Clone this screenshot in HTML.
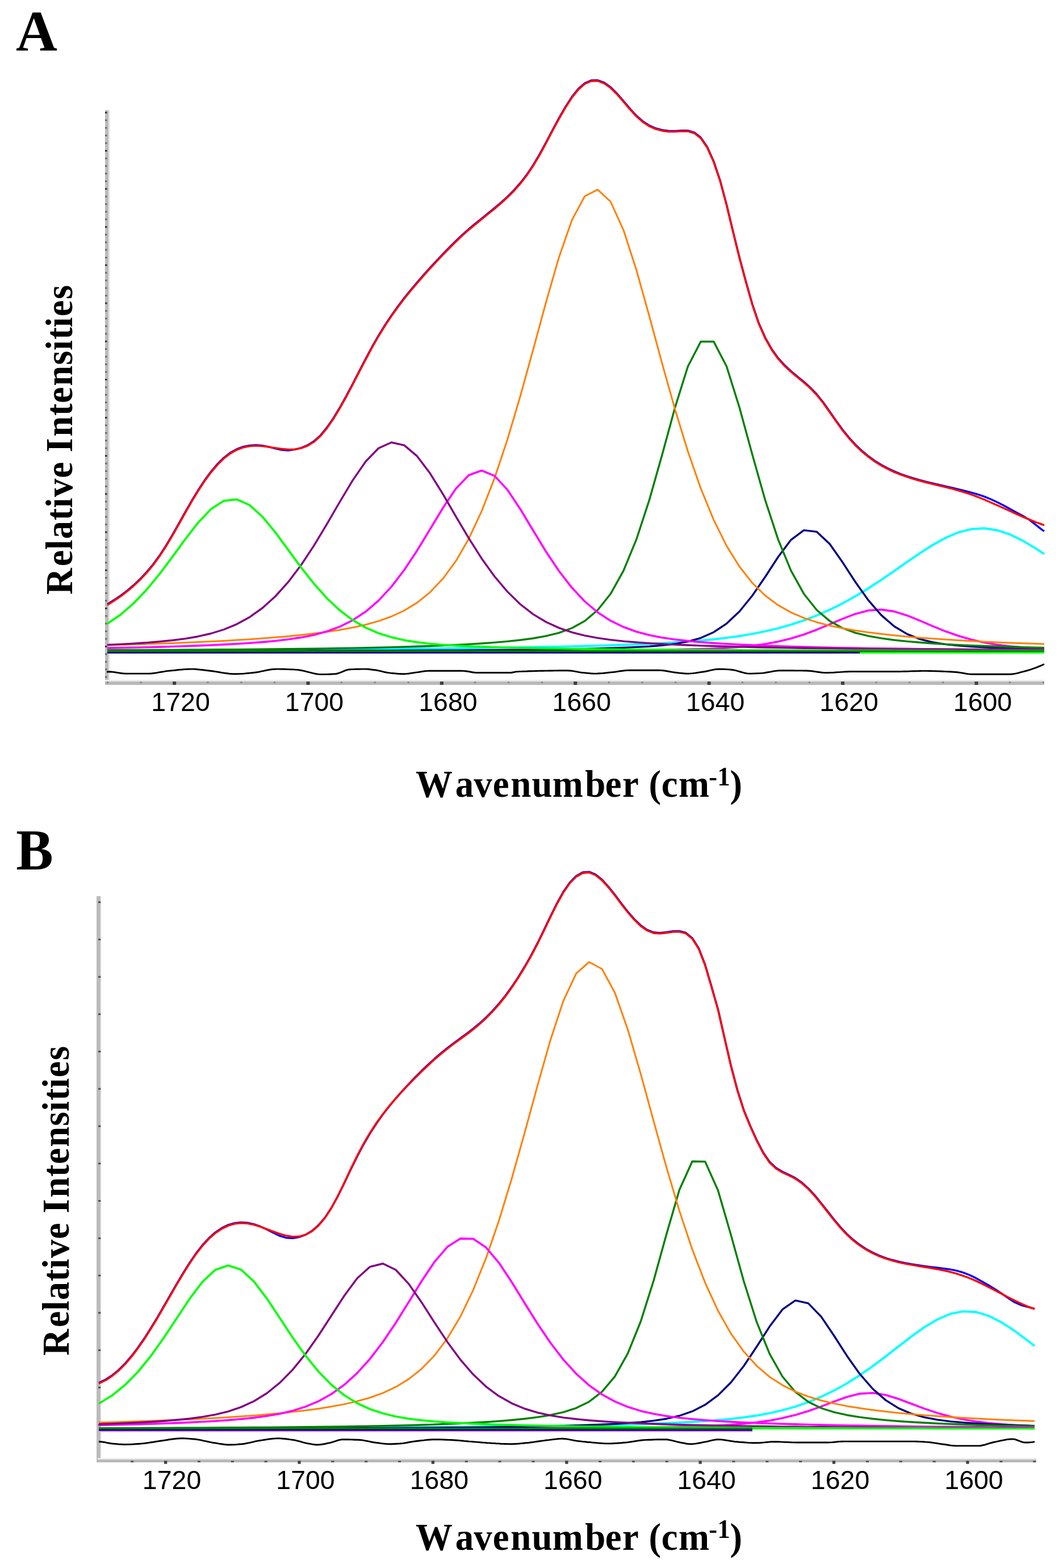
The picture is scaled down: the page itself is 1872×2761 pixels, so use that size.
<!DOCTYPE html>
<html><head><meta charset="utf-8"><title>Figure</title>
<style>
html,body{margin:0;padding:0;background:#fff;}
svg{display:block;}
.tl{font-family:"Liberation Sans",Arial,sans-serif;font-size:46.5px;text-anchor:middle;fill:#000;}
.ttl{font-family:"Liberation Serif","Times New Roman",serif;font-weight:bold;fill:#000;}
.pl{font-family:"Liberation Serif","Times New Roman",serif;font-weight:bold;fill:#000;}
</style></head>
<body>
<svg width="1872" height="2761" viewBox="0 0 1872 2761">
<rect width="1872" height="2761" fill="#fff"/>
<text class="pl" style="font-size:102.5px" transform="scale(0.985,1)" ><tspan x="28.34" y="89.3">A</tspan></text>
<text class="pl" style="font-size:102px" transform="scale(0.962,1)" ><tspan x="29.49" y="1531.2">B</tspan></text>
<rect x="185" y="194" width="6" height="1012" fill="#bcbcbc"/>
<rect x="191" y="194" width="2.6" height="1003" fill="#e6e6e6"/>
<rect x="185" y="196.8" width="3.5" height="3" fill="#303030"/>
<rect x="185" y="210.2" width="3.5" height="3" fill="#6a6a6a"/>
<rect x="185" y="223.7" width="3.5" height="3" fill="#6a6a6a"/>
<rect x="185" y="237.1" width="3.5" height="3" fill="#6a6a6a"/>
<rect x="185" y="250.5" width="3.5" height="3" fill="#6a6a6a"/>
<rect x="185" y="264" width="3.5" height="3" fill="#303030"/>
<rect x="185" y="277.4" width="3.5" height="3" fill="#6a6a6a"/>
<rect x="185" y="290.8" width="3.5" height="3" fill="#6a6a6a"/>
<rect x="185" y="304.2" width="3.5" height="3" fill="#6a6a6a"/>
<rect x="185" y="317.7" width="3.5" height="3" fill="#6a6a6a"/>
<rect x="185" y="331.1" width="3.5" height="3" fill="#303030"/>
<rect x="185" y="344.5" width="3.5" height="3" fill="#6a6a6a"/>
<rect x="185" y="358" width="3.5" height="3" fill="#6a6a6a"/>
<rect x="185" y="371.4" width="3.5" height="3" fill="#6a6a6a"/>
<rect x="185" y="384.8" width="3.5" height="3" fill="#6a6a6a"/>
<rect x="185" y="398.2" width="3.5" height="3" fill="#303030"/>
<rect x="185" y="411.7" width="3.5" height="3" fill="#6a6a6a"/>
<rect x="185" y="425.1" width="3.5" height="3" fill="#6a6a6a"/>
<rect x="185" y="438.5" width="3.5" height="3" fill="#6a6a6a"/>
<rect x="185" y="452" width="3.5" height="3" fill="#6a6a6a"/>
<rect x="185" y="465.4" width="3.5" height="3" fill="#303030"/>
<rect x="185" y="478.8" width="3.5" height="3" fill="#6a6a6a"/>
<rect x="185" y="492.3" width="3.5" height="3" fill="#6a6a6a"/>
<rect x="185" y="505.7" width="3.5" height="3" fill="#6a6a6a"/>
<rect x="185" y="519.1" width="3.5" height="3" fill="#6a6a6a"/>
<rect x="185" y="532.5" width="3.5" height="3" fill="#303030"/>
<rect x="185" y="546" width="3.5" height="3" fill="#6a6a6a"/>
<rect x="185" y="559.4" width="3.5" height="3" fill="#6a6a6a"/>
<rect x="185" y="572.8" width="3.5" height="3" fill="#6a6a6a"/>
<rect x="185" y="586.3" width="3.5" height="3" fill="#6a6a6a"/>
<rect x="185" y="599.7" width="3.5" height="3" fill="#303030"/>
<rect x="185" y="613.1" width="3.5" height="3" fill="#6a6a6a"/>
<rect x="185" y="626.6" width="3.5" height="3" fill="#6a6a6a"/>
<rect x="185" y="640" width="3.5" height="3" fill="#6a6a6a"/>
<rect x="185" y="653.4" width="3.5" height="3" fill="#6a6a6a"/>
<rect x="185" y="666.9" width="3.5" height="3" fill="#303030"/>
<rect x="185" y="680.3" width="3.5" height="3" fill="#6a6a6a"/>
<rect x="185" y="693.7" width="3.5" height="3" fill="#6a6a6a"/>
<rect x="185" y="707.1" width="3.5" height="3" fill="#6a6a6a"/>
<rect x="185" y="720.6" width="3.5" height="3" fill="#6a6a6a"/>
<rect x="185" y="734" width="3.5" height="3" fill="#303030"/>
<rect x="185" y="747.4" width="3.5" height="3" fill="#6a6a6a"/>
<rect x="185" y="760.9" width="3.5" height="3" fill="#6a6a6a"/>
<rect x="185" y="774.3" width="3.5" height="3" fill="#6a6a6a"/>
<rect x="185" y="787.7" width="3.5" height="3" fill="#6a6a6a"/>
<rect x="185" y="801.2" width="3.5" height="3" fill="#303030"/>
<rect x="185" y="814.6" width="3.5" height="3" fill="#6a6a6a"/>
<rect x="185" y="828" width="3.5" height="3" fill="#6a6a6a"/>
<rect x="185" y="841.4" width="3.5" height="3" fill="#6a6a6a"/>
<rect x="185" y="854.9" width="3.5" height="3" fill="#6a6a6a"/>
<rect x="185" y="868.3" width="3.5" height="3" fill="#303030"/>
<rect x="185" y="881.7" width="3.5" height="3" fill="#6a6a6a"/>
<rect x="185" y="895.2" width="3.5" height="3" fill="#6a6a6a"/>
<rect x="185" y="908.6" width="3.5" height="3" fill="#6a6a6a"/>
<rect x="185" y="922" width="3.5" height="3" fill="#6a6a6a"/>
<rect x="185" y="935.5" width="3.5" height="3" fill="#303030"/>
<rect x="185" y="948.9" width="3.5" height="3" fill="#6a6a6a"/>
<rect x="185" y="962.3" width="3.5" height="3" fill="#6a6a6a"/>
<rect x="185" y="975.7" width="3.5" height="3" fill="#6a6a6a"/>
<rect x="185" y="989.2" width="3.5" height="3" fill="#6a6a6a"/>
<rect x="185" y="1002.6" width="3.5" height="3" fill="#303030"/>
<rect x="185" y="1016" width="3.5" height="3" fill="#6a6a6a"/>
<rect x="185" y="1029.5" width="3.5" height="3" fill="#6a6a6a"/>
<rect x="185" y="1042.9" width="3.5" height="3" fill="#6a6a6a"/>
<rect x="185" y="1056.3" width="3.5" height="3" fill="#6a6a6a"/>
<rect x="185" y="1069.8" width="3.5" height="3" fill="#303030"/>
<rect x="185" y="1083.2" width="3.5" height="3" fill="#6a6a6a"/>
<rect x="185" y="1096.6" width="3.5" height="3" fill="#6a6a6a"/>
<rect x="185" y="1110" width="3.5" height="3" fill="#6a6a6a"/>
<rect x="185" y="1123.5" width="3.5" height="3" fill="#6a6a6a"/>
<rect x="185" y="1136.9" width="3.5" height="3" fill="#303030"/>
<rect x="185" y="1150.3" width="3.5" height="3" fill="#6a6a6a"/>
<rect x="185" y="1163.8" width="3.5" height="3" fill="#6a6a6a"/>
<rect x="185" y="1177.2" width="3.5" height="3" fill="#6a6a6a"/>
<rect x="185" y="1190.6" width="3.5" height="3" fill="#6a6a6a"/>
<rect x="185" y="1197" width="1654" height="3" fill="#ebebeb"/>
<rect x="185" y="1200" width="1654" height="6" fill="#b9b9b9"/>
<rect x="187.9" y="1200" width="3" height="3" fill="#858585"/>
<rect x="246.8" y="1200" width="3" height="3" fill="#858585"/>
<rect x="304.1" y="1200" width="6" height="6" fill="#404040"/>
<text x="318.1" y="1252" class="tl">1720</text>
<rect x="364.5" y="1200" width="3" height="3" fill="#858585"/>
<rect x="423.3" y="1200" width="3" height="3" fill="#858585"/>
<rect x="482.2" y="1200" width="3" height="3" fill="#858585"/>
<rect x="539.5" y="1200" width="6" height="6" fill="#404040"/>
<text x="553.5" y="1252" class="tl">1700</text>
<rect x="599.9" y="1200" width="3" height="3" fill="#858585"/>
<rect x="658.7" y="1200" width="3" height="3" fill="#858585"/>
<rect x="717.6" y="1200" width="3" height="3" fill="#858585"/>
<rect x="774.9" y="1200" width="6" height="6" fill="#404040"/>
<text x="788.9" y="1252" class="tl">1680</text>
<rect x="835.2" y="1200" width="3" height="3" fill="#858585"/>
<rect x="894.1" y="1200" width="3" height="3" fill="#858585"/>
<rect x="953" y="1200" width="3" height="3" fill="#858585"/>
<rect x="1010.3" y="1200" width="6" height="6" fill="#404040"/>
<text x="1024.3" y="1252" class="tl">1660</text>
<rect x="1070.7" y="1200" width="3" height="3" fill="#858585"/>
<rect x="1129.5" y="1200" width="3" height="3" fill="#858585"/>
<rect x="1188.3" y="1200" width="3" height="3" fill="#858585"/>
<rect x="1245.7" y="1200" width="6" height="6" fill="#404040"/>
<text x="1259.7" y="1252" class="tl">1640</text>
<rect x="1306" y="1200" width="3" height="3" fill="#858585"/>
<rect x="1364.9" y="1200" width="3" height="3" fill="#858585"/>
<rect x="1423.8" y="1200" width="3" height="3" fill="#858585"/>
<rect x="1481.1" y="1200" width="6" height="6" fill="#404040"/>
<text x="1495.1" y="1252" class="tl">1620</text>
<rect x="1541.5" y="1200" width="3" height="3" fill="#858585"/>
<rect x="1600.3" y="1200" width="3" height="3" fill="#858585"/>
<rect x="1659.2" y="1200" width="3" height="3" fill="#858585"/>
<rect x="1716.5" y="1200" width="6" height="6" fill="#404040"/>
<text x="1730.5" y="1252" class="tl">1600</text>
<rect x="1776.8" y="1200" width="3" height="3" fill="#858585"/>
<rect x="1835.7" y="1200" width="3" height="3" fill="#858585"/>
<polyline points="189,1144.9 189.9,1144.9 212.6,1144.9 235.3,1144.8 258,1144.7 280.7,1144.7 303.4,1144.6 326.1,1144.5 348.8,1144.4 371.5,1144.3 394.2,1144.3 416.9,1144.2 439.6,1144.1 462.3,1144 485,1143.8 507.7,1143.7 530.4,1143.6 553.1,1143.5 575.8,1143.3 598.5,1143.2 621.2,1143.1 643.9,1142.9 666.6,1142.7 689.3,1142.5 712,1142.3 734.7,1142.1 757.4,1141.9 780.1,1141.7 802.8,1141.4 825.5,1141.2 848.2,1140.9 870.9,1140.6 893.6,1140.2 916.3,1139.9 939,1139.5 961.7,1139 984.4,1138.6 1007.1,1138.1 1029.8,1137.5 1052.5,1136.9 1075.2,1136.2 1097.9,1135.5 1120.6,1134.6 1143.3,1133.7 1166,1132.5 1188.7,1131.2 1211.4,1129.7 1234.1,1127.9 1256.8,1125.7 1279.5,1123.1 1302.2,1120 1324.9,1116.2 1347.6,1111.7 1370.3,1106.3 1393,1099.9 1415.7,1092.4 1438.4,1083.7 1461.1,1073.7 1483.8,1062.4 1506.5,1049.8 1529.2,1036 1551.9,1021.1 1574.6,1005.6 1597.3,989.7 1620,974.1 1642.7,959.5 1665.4,947 1688.1,937.3 1710.8,931.6 1733.5,930.3 1756.2,933.7 1778.9,941.2 1801.6,952.3 1824.3,965.9 1839,975.6" fill="none" stroke="#00ffff" stroke-width="3.9" stroke-linejoin="round" />
<polyline points="189,1146.8 189.9,1146.8 212.6,1146.7 235.3,1146.7 258,1146.7 280.7,1146.7 303.4,1146.7 326.1,1146.7 348.8,1146.7 371.5,1146.7 394.2,1146.7 416.9,1146.6 439.6,1146.6 462.3,1146.6 485,1146.6 507.7,1146.6 530.4,1146.6 553.1,1146.5 575.8,1146.5 598.5,1146.5 621.2,1146.5 643.9,1146.5 666.6,1146.4 689.3,1146.4 712,1146.4 734.7,1146.3 757.4,1146.3 780.1,1146.2 802.8,1146.2 825.5,1146.2 848.2,1146.1 870.9,1146 893.6,1146 916.3,1145.9 939,1145.8 961.7,1145.7 984.4,1145.6 1007.1,1145.5 1029.8,1145.4 1052.5,1145.2 1075.2,1145.1 1097.9,1144.9 1120.6,1144.7 1143.3,1144.4 1166,1144.1 1188.7,1143.8 1211.4,1143.3 1234.1,1142.7 1256.8,1142 1279.5,1140.9 1302.2,1139.3 1324.9,1137.1 1347.6,1134.1 1370.3,1129.8 1393,1124.2 1415.7,1117.2 1438.4,1108.7 1461.1,1099.3 1483.8,1089.6 1506.5,1080.9 1529.2,1075 1551.9,1073.4 1574.6,1076.6 1597.3,1083.7 1620,1092.9 1642.7,1102.6 1665.4,1111.8 1688.1,1119.8 1710.8,1126.3 1733.5,1131.4 1756.2,1135.2 1778.9,1138 1801.6,1139.9 1824.3,1141.3 1839,1142" fill="none" stroke="#ff00ff" stroke-width="3.6" stroke-linejoin="round" />
<polyline points="189,1146.5 189.9,1146.5 212.6,1146.5 235.3,1146.5 258,1146.4 280.7,1146.4 303.4,1146.4 326.1,1146.4 348.8,1146.4 371.5,1146.3 394.2,1146.3 416.9,1146.3 439.6,1146.2 462.3,1146.2 485,1146.2 507.7,1146.1 530.4,1146.1 553.1,1146 575.8,1146 598.5,1145.9 621.2,1145.8 643.9,1145.8 666.6,1145.7 689.3,1145.6 712,1145.5 734.7,1145.4 757.4,1145.3 780.1,1145.2 802.8,1145.1 825.5,1144.9 848.2,1144.8 870.9,1144.6 893.6,1144.4 916.3,1144.2 939,1143.9 961.7,1143.6 984.4,1143.3 1007.1,1142.9 1029.8,1142.4 1052.5,1141.9 1075.2,1141.2 1097.9,1140.4 1120.6,1139.4 1143.3,1138.2 1166,1136.4 1188.7,1133.8 1211.4,1129.7 1234.1,1123.3 1256.8,1113.2 1279.5,1098.1 1302.2,1076.7 1324.9,1048.8 1347.6,1015.7 1370.3,980.8 1393,950.6 1415.7,933.6 1438.4,936.4 1461.1,957.8 1483.8,990.1 1506.5,1025 1529.2,1056.9 1551.9,1083.1 1574.6,1102.7 1597.3,1116.4 1620,1125.3 1642.7,1131 1665.4,1134.6 1688.1,1136.9 1710.8,1138.5 1733.5,1139.7 1756.2,1140.6 1778.9,1141.4 1801.6,1142 1824.3,1142.5 1839,1142.8" fill="none" stroke="#000080" stroke-width="3.4" stroke-linejoin="round" />
<polyline points="189,1144.9 189.9,1144.9 212.6,1144.8 235.3,1144.7 258,1144.6 280.7,1144.5 303.4,1144.4 326.1,1144.3 348.8,1144.1 371.5,1144 394.2,1143.8 416.9,1143.6 439.6,1143.4 462.3,1143.2 485,1143 507.7,1142.8 530.4,1142.5 553.1,1142.2 575.8,1141.9 598.5,1141.5 621.2,1141.1 643.9,1140.7 666.6,1140.2 689.3,1139.6 712,1139 734.7,1138.3 757.4,1137.5 780.1,1136.6 802.8,1135.6 825.5,1134.4 848.2,1133 870.9,1131.4 893.6,1129.4 916.3,1127 939,1124 961.7,1119.9 984.4,1114.3 1007.1,1106 1029.8,1093.5 1052.5,1074.3 1075.2,1045.8 1097.9,1005.1 1120.6,950.2 1143.3,881 1166,801 1188.7,717.8 1211.4,645.2 1234.1,601.5 1256.8,601.4 1279.5,645 1302.2,717.5 1324.9,800.6 1347.6,880.7 1370.3,949.9 1393,1004.9 1415.7,1045.7 1438.4,1074.2 1461.1,1093.4 1483.8,1106 1506.5,1114.3 1529.2,1119.9 1551.9,1123.9 1574.6,1127 1597.3,1129.4 1620,1131.3 1642.7,1133 1665.4,1134.4 1688.1,1135.6 1710.8,1136.6 1733.5,1137.5 1756.2,1138.3 1778.9,1139 1801.6,1139.6 1824.3,1140.2 1839,1140.5" fill="none" stroke="#008000" stroke-width="3.4" stroke-linejoin="round" />
<polyline points="189,1136 189.9,1136 212.6,1135.4 235.3,1134.8 258,1134.1 280.7,1133.3 303.4,1132.5 326.1,1131.6 348.8,1130.6 371.5,1129.6 394.2,1128.4 416.9,1127.1 439.6,1125.7 462.3,1124.1 485,1122.3 507.7,1120.4 530.4,1118.1 553.1,1115.6 575.8,1112.6 598.5,1109.2 621.2,1105 643.9,1100 666.6,1093.6 689.3,1085.5 712,1075 734.7,1061.1 757.4,1042.8 780.1,1018.8 802.8,987.9 825.5,948.7 848.2,900.2 870.9,841.9 893.6,773.9 916.3,697.5 939,615.3 961.7,531.6 984.4,452.9 1007.1,387.7 1029.8,345.5 1052.5,333.8 1075.2,355 1097.9,404.8 1120.6,475 1143.3,556 1166,639.8 1188.7,720.7 1211.4,794.8 1234.1,860 1256.8,915.4 1279.5,961.1 1302.2,997.8 1324.9,1026.5 1347.6,1048.7 1370.3,1065.6 1393,1078.4 1415.7,1088.1 1438.4,1095.7 1461.1,1101.6 1483.8,1106.3 1506.5,1110.2 1529.2,1113.5 1551.9,1116.3 1574.6,1118.8 1597.3,1121 1620,1122.9 1642.7,1124.6 1665.4,1126.1 1688.1,1127.5 1710.8,1128.8 1733.5,1129.9 1756.2,1130.9 1778.9,1131.9 1801.6,1132.8 1824.3,1133.5 1839,1134" fill="none" stroke="#ff8000" stroke-width="3.0" stroke-linejoin="round" />
<polyline points="189,1141.1 189.9,1141.1 212.6,1140.6 235.3,1140.2 258,1139.7 280.7,1139.1 303.4,1138.5 326.1,1137.7 348.8,1136.9 371.5,1136 394.2,1134.9 416.9,1133.7 439.6,1132.3 462.3,1130.6 485,1128.5 507.7,1125.8 530.4,1122.4 553.1,1117.9 575.8,1111.7 598.5,1103.4 621.2,1092.1 643.9,1077.1 666.6,1057.6 689.3,1033.1 712,1003.5 734.7,969.3 757.4,931.9 780.1,894.2 802.8,860.5 825.5,836.8 848.2,828.5 870.9,837.9 893.6,862.4 916.3,896.5 939,934.3 961.7,971.6 984.4,1005.5 1007.1,1034.8 1029.8,1059 1052.5,1078.2 1075.2,1092.9 1097.9,1104 1120.6,1112.2 1143.3,1118.2 1166,1122.7 1188.7,1126 1211.4,1128.6 1234.1,1130.7 1256.8,1132.4 1279.5,1133.8 1302.2,1135 1324.9,1136.1 1347.6,1137 1370.3,1137.8 1393,1138.5 1415.7,1139.1 1438.4,1139.7 1461.1,1140.2 1483.8,1140.7 1506.5,1141.1 1529.2,1141.5 1551.9,1141.8 1574.6,1142.1 1597.3,1142.4 1620,1142.7 1642.7,1142.9 1665.4,1143.1 1688.1,1143.3 1710.8,1143.5 1733.5,1143.7 1756.2,1143.8 1778.9,1144 1801.6,1144.1 1824.3,1144.3 1839,1144.3" fill="none" stroke="#ff00ff" stroke-width="3.6" stroke-linejoin="round" />
<polyline points="189,1135.5 189.9,1135.4 212.6,1134.4 235.3,1133.1 258,1131.6 280.7,1129.8 303.4,1127.5 326.1,1124.6 348.8,1120.7 371.5,1115.5 394.2,1108.5 416.9,1099.1 439.6,1086.7 462.3,1070.5 485,1050 507.7,1024.7 530.4,994.7 553.1,960.4 575.8,922.7 598.5,883.5 621.2,845.6 643.9,812.8 666.6,789.2 689.3,779 712,784.1 734.7,803.4 757.4,833.6 780.1,870.2 802.8,909.3 825.5,947.7 848.2,983.4 870.9,1015 893.6,1041.9 916.3,1064 939,1081.6 961.7,1095.2 984.4,1105.6 1007.1,1113.4 1029.8,1119.1 1052.5,1123.4 1075.2,1126.6 1097.9,1129.1 1120.6,1131 1143.3,1132.6 1166,1133.9 1188.7,1135.1 1211.4,1136 1234.1,1136.9 1256.8,1137.6 1279.5,1138.3 1302.2,1138.9 1324.9,1139.5 1347.6,1140 1370.3,1140.4 1393,1140.8 1415.7,1141.2 1438.4,1141.5 1461.1,1141.8 1483.8,1142.1 1506.5,1142.4 1529.2,1142.6 1551.9,1142.8 1574.6,1143 1597.3,1143.2 1620,1143.4 1642.7,1143.6 1665.4,1143.7 1688.1,1143.9 1710.8,1144 1733.5,1144.1 1756.2,1144.3 1778.9,1144.4 1801.6,1144.5 1824.3,1144.6 1839,1144.6" fill="none" stroke="#800080" stroke-width="3.4" stroke-linejoin="round" />
<polyline points="189,1098.1 189.9,1097.6 212.6,1082.1 235.3,1062.4 258,1038.6 280.7,1011.1 303.4,980.8 326.1,949.6 348.8,920.4 371.5,896.5 394.2,881.8 416.9,879.3 439.6,889.4 462.3,910 485,937.6 507.7,968.4 530.4,999.3 553.1,1028.1 575.8,1053.5 598.5,1074.8 621.2,1091.9 643.9,1105.1 666.6,1115 689.3,1122.1 712,1127.3 734.7,1130.9 757.4,1133.5 780.1,1135.5 802.8,1136.9 825.5,1138 848.2,1138.9 870.9,1139.7 893.6,1140.3 916.3,1140.9 939,1141.3 961.7,1141.8 984.4,1142.2 1007.1,1142.5 1029.8,1142.8 1052.5,1143.1 1075.2,1143.4 1097.9,1143.6 1120.6,1143.8 1143.3,1144 1166,1144.2 1188.7,1144.3 1211.4,1144.5 1234.1,1144.6 1256.8,1144.7 1279.5,1144.8 1302.2,1144.9 1324.9,1145 1347.6,1145.1 1370.3,1145.2 1393,1145.3 1415.7,1145.4 1438.4,1145.4 1461.1,1145.5 1483.8,1145.6 1506.5,1145.6 1529.2,1145.7 1551.9,1145.7 1574.6,1145.8 1597.3,1145.8 1620,1145.9 1642.7,1145.9 1665.4,1145.9 1688.1,1146 1710.8,1146 1733.5,1146.1 1756.2,1146.1 1778.9,1146.1 1801.6,1146.1 1824.3,1146.2 1839,1146.2" fill="none" stroke="#00ff00" stroke-width="3.7" stroke-linejoin="round" />
<line x1="189" y1="1149.3" x2="1514" y2="1149.3" stroke="#000080" stroke-width="3"/>
<line x1="1514" y1="1149.2" x2="1839" y2="1149.2" stroke="#00ff00" stroke-width="3"/>
<line x1="189" y1="1146.4" x2="1839" y2="1146.4" stroke="#008000" stroke-width="3"/>
<polyline points="189,1064 189.9,1063.5 201.2,1056.3 212.6,1048.6 224,1040 235.3,1030.4 246.6,1019.7 258,1007.6 269.4,994 280.7,978.6 292.1,961.2 303.4,942.2 314.8,922.2 326.1,901.9 337.5,882 348.8,863.3 360.1,846.1 371.5,830.6 382.9,817.2 394.2,806 405.6,797.2 416.9,790.9 428.2,786.7 439.6,784.4 451,783.8 462.3,784.7 473.6,786.9 485,789.8 496.4,792.3 507.7,793 519.1,791.6 530.4,788.6 541.8,783.9 553.1,776.7 564.5,766.4 575.8,752.7 587.2,736.2 598.5,717.5 609.9,697.1 621.2,675.7 632.5,653.7 643.9,631.9 655.2,610.7 666.6,590.8 678,572.4 689.3,555.4 700.7,539.5 712,524.6 723.4,510.5 734.7,497.1 746,484.1 757.4,471.5 768.8,459.1 780.1,447.1 791.5,435.5 802.8,424.3 814.1,413.6 825.5,403.4 836.9,393.9 848.2,384.7 859.5,375.6 870.9,366.4 882.2,356.7 893.6,346.4 905,335 916.3,322.2 927.6,307.6 939,290.7 950.4,271.4 961.7,250.5 973,229 984.4,207.9 995.8,188.1 1007.1,170.6 1018.5,156.4 1029.8,146.5 1041.2,141.5 1052.5,141.3 1063.8,145.4 1075.2,153.5 1086.5,164.7 1097.9,177.8 1109.2,191.2 1120.6,203.6 1132,213.6 1143.3,220.9 1154.7,226 1166,229 1177.3,230.5 1188.7,230.6 1200,229.9 1211.4,230 1222.8,233.3 1234.1,242.2 1245.5,258.8 1256.8,283.9 1268.2,317.7 1279.5,359.9 1290.8,406.8 1302.2,453.1 1313.5,495.2 1324.9,535.5 1336.2,568.7 1347.6,594.5 1359,614.7 1370.3,630.5 1381.7,643.1 1393,653.6 1404.3,663 1415.7,672.3 1427,682.4 1438.4,694.3 1449.8,708.6 1461.1,724.6 1472.5,740.9 1483.8,756.6 1495.2,770.6 1506.5,783 1517.8,793.8 1529.2,803.2 1540.5,811.4 1551.9,818.5 1563.2,824.6 1574.6,829.9 1585.9,834.5 1597.3,838.5 1608.7,842.1 1620,845.3 1631.3,848.3 1642.7,851.1 1654,853.7 1665.4,856.4 1676.8,859 1688.1,861.6 1699.4,864.4 1710.8,867.3 1722.2,870.6 1733.5,874.4 1744.8,879 1756.2,884.3 1767.5,890.1 1778.9,896.3 1790.2,902.4 1801.6,908.4 1812.9,915.4 1824.3,924.3 1835.7,933.4 1839,935.3" fill="none" stroke="#0000ff" stroke-width="3.4" stroke-linejoin="round" />
<polyline points="189,1065.2 189.9,1064.7 201.2,1057.5 212.6,1049.8 224,1041.2 235.3,1031.6 246.6,1020.9 258,1008.8 269.4,995.2 280.7,979.8 292.1,962.4 303.4,943.4 314.8,923.4 326.1,903.1 337.5,883.2 348.8,864.5 360.1,847.3 371.5,831.8 382.9,818.4 394.2,807.2 405.6,798.4 416.9,792.1 428.2,787.9 439.6,785.6 451,784.9 462.3,785.6 473.6,787.1 485,788.9 496.4,790.5 507.7,791.4 519.1,791.2 530.4,789.1 541.8,784.9 553.1,777.9 564.5,767.6 575.8,753.9 587.2,737.4 598.5,718.7 609.9,698.3 621.2,676.9 632.5,654.9 643.9,633.1 655.2,611.9 666.6,592 678,573.6 689.3,556.6 700.7,540.7 712,525.8 723.4,511.7 734.7,498.3 746,485.3 757.4,472.7 768.8,460.3 780.1,448.3 791.5,436.7 802.8,425.5 814.1,414.8 825.5,404.6 836.9,395.1 848.2,385.9 859.5,376.8 870.9,367.6 882.2,357.9 893.6,347.6 905,336.2 916.3,323.4 927.6,308.8 939,291.9 950.4,272.6 961.7,251.7 973,230.2 984.4,209.1 995.8,189.3 1007.1,171.8 1018.5,157.6 1029.8,147.7 1041.2,142.7 1052.5,142.5 1063.8,146.6 1075.2,154.7 1086.5,165.9 1097.9,179 1109.2,192.4 1120.6,204.8 1132,214.8 1143.3,222.1 1154.7,227.2 1166,230.2 1177.3,231.7 1188.7,231.8 1200,231.1 1211.4,231.2 1222.8,234.5 1234.1,243.4 1245.5,260 1256.8,285.1 1268.2,318.9 1279.5,361.1 1290.8,408 1302.2,454.3 1313.5,496.4 1324.9,536.7 1336.2,569.9 1347.6,595.7 1359,615.9 1370.3,631.7 1381.7,644.3 1393,654.8 1404.3,664.2 1415.7,673.5 1427,683.6 1438.4,695.5 1449.8,709.8 1461.1,725.8 1472.5,742.1 1483.8,757.8 1495.2,771.8 1506.5,784.2 1517.8,795 1529.2,804.4 1540.5,812.6 1551.9,819.7 1563.2,825.8 1574.6,831.1 1585.9,835.7 1597.3,839.7 1608.7,843.3 1620,846.5 1631.3,849.5 1642.7,852.3 1654,855 1665.4,857.8 1676.8,860.7 1688.1,863.8 1699.4,867.2 1710.8,871 1722.2,875.2 1733.5,879.8 1744.8,884.7 1756.2,889.7 1767.5,894.8 1778.9,900 1790.2,905.1 1801.6,910.1 1812.9,914.9 1824.3,919.5 1835.7,923.6 1839,924.8" fill="none" stroke="#ff0000" stroke-width="3.4" stroke-linejoin="round" />
<polyline points="188,1183 192,1182.7 196,1183 200,1183.4 204,1184 208,1184.6 212,1185.2 216,1185.7 220,1186 224,1186.1 228,1186.1 232,1186.1 236,1186.1 240,1186.1 244,1186.1 248,1186.1 252,1186.1 256,1186.1 260,1186.1 264,1186 268,1185.7 272,1185.2 276,1184.6 280,1183.9 284,1183.2 288,1182.6 292,1181.9 296,1181.4 300,1181 304,1180.6 308,1180.2 312,1179.7 316,1179.3 320,1179 324,1178.6 328,1178.4 332,1178.2 336,1178.1 340,1178.1 344,1178.3 348,1178.7 352,1179.1 356,1179.5 360,1180 364,1180.5 368,1181 372,1181.5 376,1182 380,1182.6 384,1183.3 388,1184 392,1184.6 396,1185.2 400,1185.7 404,1186.2 408,1186.5 412,1186.7 416,1186.7 420,1186.6 424,1186.4 428,1186.2 432,1185.9 436,1185.5 440,1185.1 444,1184.7 448,1184.3 452,1183.8 456,1183.1 460,1182.2 464,1181.4 468,1180.5 472,1179.7 476,1179 480,1178.5 484,1178.2 488,1178.1 492,1178.1 496,1178.2 500,1178.3 504,1178.4 508,1178.6 512,1178.7 516,1178.9 520,1179.1 524,1179.4 528,1180 532,1180.7 536,1181.6 540,1182.6 544,1183.7 548,1184.7 552,1185.7 556,1186.5 560,1187.1 564,1187.4 568,1187.5 572,1187.4 576,1187.4 580,1187.2 584,1187 588,1186.8 592,1186.5 596,1185.5 600,1184 604,1182.4 608,1180.7 612,1179.4 616,1178.7 620,1178.6 624,1178.4 628,1178.3 632,1178.2 636,1178.1 640,1178.1 644,1178.1 648,1178.3 652,1178.7 656,1179.2 660,1179.7 664,1180.3 668,1181.1 672,1182.1 676,1183.1 680,1184 684,1184.6 688,1185.1 692,1185.5 696,1185.9 700,1186.3 704,1186.5 708,1186.7 712,1186.7 716,1186.4 720,1186 724,1185.4 728,1184.8 732,1184.1 736,1183.6 740,1183 744,1182.4 748,1181.8 752,1181.4 756,1181.3 760,1181.3 764,1181.3 768,1181.3 772,1181.3 776,1181.3 780,1181.3 784,1181.3 788,1181.3 792,1181.3 796,1181.3 800,1181.3 804,1181.3 808,1181.3 812,1181.3 816,1181.4 820,1181.7 824,1182.3 828,1183 832,1183.7 836,1184.3 840,1184.5 844,1184.5 848,1184.5 852,1184.5 856,1184.5 860,1184.5 864,1184.5 868,1184.5 872,1184.5 876,1184.5 880,1184.5 884,1184.5 888,1184.5 892,1184.5 896,1184.5 900,1184.5 904,1183.8 908,1182.9 912,1182.6 916,1182.4 920,1182.3 924,1182.1 928,1182 932,1181.8 936,1181.7 940,1181.6 944,1181.5 948,1181.4 952,1181.3 956,1181.2 960,1181.1 964,1181.1 968,1181 972,1181 976,1180.9 980,1180.9 984,1180.8 988,1180.8 992,1180.8 996,1180.8 1000,1180.8 1004,1181 1008,1181.4 1012,1182.1 1016,1182.8 1020,1183.6 1024,1184.2 1028,1184.6 1032,1185 1036,1185.4 1040,1185.8 1044,1186 1048,1186.1 1052,1186 1056,1185.8 1060,1185.6 1064,1185.2 1068,1184.8 1072,1184.3 1076,1183.9 1080,1183.5 1084,1183 1088,1182.4 1092,1181.8 1096,1181.2 1100,1180.7 1104,1180.4 1108,1180.3 1112,1180.3 1116,1180.3 1120,1180.3 1124,1180.3 1128,1180.3 1132,1180.3 1136,1180.3 1140,1180.3 1144,1180.3 1148,1180.3 1152,1180.3 1156,1180.3 1160,1180.3 1164,1180.4 1168,1180.8 1172,1181.3 1176,1182 1180,1182.7 1184,1183.4 1188,1184 1192,1184.5 1196,1185 1200,1185.4 1204,1185.8 1208,1186 1212,1186.1 1216,1185.9 1220,1185.6 1224,1185.1 1228,1184.5 1232,1183.9 1236,1183.3 1240,1182.7 1244,1182 1248,1181.1 1252,1180.2 1256,1179.3 1260,1178.6 1264,1178.2 1268,1178.1 1272,1178.2 1276,1178.4 1280,1178.6 1284,1178.9 1288,1179.2 1292,1179.8 1296,1180.7 1300,1181.8 1304,1183 1308,1184.2 1312,1185.2 1316,1185.9 1320,1186.1 1324,1186.1 1328,1185.9 1332,1185.8 1336,1185.6 1340,1185.4 1344,1185.1 1348,1184.5 1352,1183.8 1356,1183.1 1360,1182.3 1364,1181.6 1368,1181.1 1372,1180.8 1376,1180.8 1380,1180.8 1384,1180.8 1388,1180.8 1392,1180.8 1396,1180.8 1400,1180.9 1404,1180.9 1408,1180.9 1412,1180.9 1416,1181 1420,1181 1424,1181.2 1428,1181.5 1432,1182 1436,1182.6 1440,1183.2 1444,1183.8 1448,1184.3 1452,1184.5 1456,1184.6 1460,1184.5 1464,1184.4 1468,1184.2 1472,1183.9 1476,1183.6 1480,1183.4 1484,1183.1 1488,1182.9 1492,1182.7 1496,1182.5 1500,1182.5 1504,1182.5 1508,1182.5 1512,1182.5 1516,1182.5 1520,1182.5 1524,1182.5 1528,1182.5 1532,1182.5 1536,1182.5 1540,1182.5 1544,1182.5 1548,1182.5 1552,1182.5 1556,1182.5 1560,1182.5 1564,1182.5 1568,1182.5 1572,1182.5 1576,1182.5 1580,1182.5 1584,1182.5 1588,1182.4 1592,1182.3 1596,1182.2 1600,1182.1 1604,1181.9 1608,1181.8 1612,1181.7 1616,1181.6 1620,1181.5 1624,1181.4 1628,1181.4 1632,1181.4 1636,1181.5 1640,1181.5 1644,1181.6 1648,1181.7 1652,1181.9 1656,1182 1660,1182.2 1664,1182.4 1668,1182.6 1672,1182.8 1676,1183 1680,1183.2 1684,1183.5 1688,1184 1692,1184.6 1696,1185.3 1700,1186 1704,1186.6 1708,1187.1 1712,1187.3 1716,1187.3 1720,1187.3 1724,1187.3 1728,1187.3 1732,1187.3 1736,1187.3 1740,1187.3 1744,1187.3 1748,1187.3 1752,1187.3 1756,1187.3 1760,1187.3 1764,1187.3 1768,1187.3 1772,1187.3 1776,1187.3 1780,1187.2 1784,1186.8 1788,1186.1 1792,1185.3 1796,1184.2 1800,1183.2 1804,1182.1 1808,1181 1812,1179.9 1816,1178.6 1820,1177.2 1824,1175.8 1828,1174.2 1832,1172.6 1836,1170.8 1839,1169.5" fill="none" stroke="#000000" stroke-width="2.9" stroke-linejoin="round" />
<text class="ttl" style="font-size:67px" transform="scale(0.97,1)" ><tspan x="754.62" y="1403.5">W</tspan><tspan x="826.6" y="1403.5">a</tspan><tspan x="860.1" y="1403.5">v</tspan><tspan x="894.62" y="1403.5">e</tspan><tspan x="927.07" y="1403.5">n</tspan><tspan x="965.48" y="1403.5">u</tspan><tspan x="1002.94" y="1403.5">m</tspan><tspan x="1062.14" y="1403.5">b</tspan><tspan x="1098.64" y="1403.5">e</tspan><tspan x="1129.85" y="1403.5">r</tspan><tspan x="1159.59" y="1403.5"> </tspan><tspan x="1177.78" y="1403.5">(</tspan><tspan x="1200.7" y="1403.5">c</tspan><tspan x="1232.02" y="1403.5">m</tspan><tspan x="1286.98" y="1383.3" style="font-size:46px">-</tspan><tspan x="1302.5" y="1383.3" style="font-size:46px">1</tspan><tspan x="1325.26" y="1403.5">)</tspan></text>
<text class="ttl" style="font-size:68px" transform="translate(126.9,3000) rotate(-90) scale(0.95,1)"><tspan x="2055.89">R</tspan><tspan x="2108.2">e</tspan><tspan x="2138.57">l</tspan><tspan x="2158.65">a</tspan><tspan x="2193.54">t</tspan><tspan x="2216.4">i</tspan><tspan x="2236.84">v</tspan><tspan x="2271.57">e</tspan><tspan x="2301.75"> </tspan><tspan x="2319.6">I</tspan><tspan x="2348.7">n</tspan><tspan x="2387.33">t</tspan><tspan x="2410.41">e</tspan><tspan x="2442.38">n</tspan><tspan x="2481.31">s</tspan><tspan x="2508.3">i</tspan><tspan x="2528.59">t</tspan><tspan x="2551.14">i</tspan><tspan x="2571.36">e</tspan><tspan x="2603.1">s</tspan></text>
<rect x="170" y="1578" width="7.3" height="997" fill="#bcbcbc"/>
<rect x="173" y="1587.1" width="4.3" height="3" fill="#505050"/>
<rect x="173" y="1652.8" width="4.3" height="3" fill="#505050"/>
<rect x="173" y="1718.6" width="4.3" height="3" fill="#505050"/>
<rect x="173" y="1784.3" width="4.3" height="3" fill="#505050"/>
<rect x="173" y="1850.1" width="4.3" height="3" fill="#505050"/>
<rect x="173" y="1915.8" width="4.3" height="3" fill="#505050"/>
<rect x="173" y="1981.5" width="4.3" height="3" fill="#505050"/>
<rect x="173" y="2047.3" width="4.3" height="3" fill="#505050"/>
<rect x="173" y="2113" width="4.3" height="3" fill="#505050"/>
<rect x="173" y="2178.8" width="4.3" height="3" fill="#505050"/>
<rect x="173" y="2244.5" width="4.3" height="3" fill="#505050"/>
<rect x="173" y="2310.2" width="4.3" height="3" fill="#505050"/>
<rect x="173" y="2376" width="4.3" height="3" fill="#505050"/>
<rect x="173" y="2441.7" width="4.3" height="3" fill="#505050"/>
<rect x="173" y="2507.5" width="4.3" height="3" fill="#505050"/>
<rect x="172" y="2567.4" width="1653" height="2.6" fill="#ebebeb"/>
<rect x="172" y="2570" width="1653" height="5" fill="#b9b9b9"/>
<rect x="230.2" y="2572.3" width="5" height="2.7" fill="#505050"/>
<rect x="289" y="2572.3" width="5.3" height="5.4" fill="#404040"/>
<text x="302.6" y="2622" class="tl">1720</text>
<rect x="348" y="2572.3" width="5" height="2.7" fill="#505050"/>
<rect x="406.8" y="2572.3" width="5" height="2.7" fill="#505050"/>
<rect x="465.7" y="2572.3" width="5" height="2.7" fill="#505050"/>
<rect x="524.4" y="2572.3" width="5.3" height="5.4" fill="#404040"/>
<text x="538" y="2622" class="tl">1700</text>
<rect x="583.4" y="2572.3" width="5" height="2.7" fill="#505050"/>
<rect x="642.2" y="2572.3" width="5" height="2.7" fill="#505050"/>
<rect x="701.1" y="2572.3" width="5" height="2.7" fill="#505050"/>
<rect x="759.8" y="2572.3" width="5.3" height="5.4" fill="#404040"/>
<text x="773.4" y="2622" class="tl">1680</text>
<rect x="818.8" y="2572.3" width="5" height="2.7" fill="#505050"/>
<rect x="877.6" y="2572.3" width="5" height="2.7" fill="#505050"/>
<rect x="936.5" y="2572.3" width="5" height="2.7" fill="#505050"/>
<rect x="995.2" y="2572.3" width="5.3" height="5.4" fill="#404040"/>
<text x="1008.8" y="2622" class="tl">1660</text>
<rect x="1054.2" y="2572.3" width="5" height="2.7" fill="#505050"/>
<rect x="1113" y="2572.3" width="5" height="2.7" fill="#505050"/>
<rect x="1171.8" y="2572.3" width="5" height="2.7" fill="#505050"/>
<rect x="1230.5" y="2572.3" width="5.3" height="5.4" fill="#404040"/>
<text x="1244.2" y="2622" class="tl">1640</text>
<rect x="1289.5" y="2572.3" width="5" height="2.7" fill="#505050"/>
<rect x="1348.4" y="2572.3" width="5" height="2.7" fill="#505050"/>
<rect x="1407.2" y="2572.3" width="5" height="2.7" fill="#505050"/>
<rect x="1465.9" y="2572.3" width="5.3" height="5.4" fill="#404040"/>
<text x="1479.6" y="2622" class="tl">1620</text>
<rect x="1525" y="2572.3" width="5" height="2.7" fill="#505050"/>
<rect x="1583.8" y="2572.3" width="5" height="2.7" fill="#505050"/>
<rect x="1642.7" y="2572.3" width="5" height="2.7" fill="#505050"/>
<rect x="1701.3" y="2572.3" width="5.3" height="5.4" fill="#404040"/>
<text x="1715" y="2622" class="tl">1600</text>
<rect x="1760.3" y="2572.3" width="5" height="2.7" fill="#505050"/>
<rect x="1819.2" y="2572.3" width="5" height="2.7" fill="#505050"/>
<polyline points="174,2515.1 174.9,2515.1 197.6,2515.1 220.3,2515 243,2515 265.7,2515 288.4,2514.9 311.1,2514.9 333.8,2514.8 356.5,2514.7 379.2,2514.7 401.9,2514.6 424.6,2514.6 447.3,2514.5 470,2514.4 492.7,2514.3 515.4,2514.3 538.1,2514.2 560.8,2514.1 583.5,2514 606.2,2513.9 628.9,2513.8 651.6,2513.7 674.3,2513.5 697,2513.4 719.7,2513.3 742.4,2513.1 765.1,2512.9 787.8,2512.8 810.5,2512.6 833.2,2512.4 855.9,2512.2 878.6,2511.9 901.3,2511.7 924,2511.4 946.7,2511.1 969.4,2510.8 992.1,2510.5 1014.8,2510.1 1037.5,2509.7 1060.2,2509.2 1082.9,2508.7 1105.6,2508.1 1128.3,2507.5 1151,2506.7 1173.7,2505.9 1196.4,2504.9 1219.1,2503.8 1241.8,2502.3 1264.5,2500.6 1287.2,2498.5 1309.9,2495.8 1332.6,2492.5 1355.3,2488.3 1378,2483.1 1400.7,2476.8 1423.4,2469 1446.1,2459.6 1468.8,2448.6 1491.5,2435.9 1514.2,2421.5 1536.9,2405.6 1559.6,2388.6 1582.3,2370.9 1605,2353.4 1627.7,2337.2 1650.4,2323.5 1673.1,2313.7 1695.8,2309.1 1718.5,2310.2 1741.2,2317 1763.9,2328.4 1786.6,2343.3 1809.3,2360.2 1822,2370" fill="none" stroke="#00ffff" stroke-width="3.9" stroke-linejoin="round" />
<polyline points="174,2516.2 174.9,2516.2 197.6,2516.2 220.3,2516.2 243,2516.2 265.7,2516.2 288.4,2516.2 311.1,2516.2 333.8,2516.1 356.5,2516.1 379.2,2516.1 401.9,2516.1 424.6,2516.1 447.3,2516.1 470,2516 492.7,2516 515.4,2516 538.1,2516 560.8,2516 583.5,2515.9 606.2,2515.9 628.9,2515.9 651.6,2515.8 674.3,2515.8 697,2515.8 719.7,2515.7 742.4,2515.7 765.1,2515.6 787.8,2515.6 810.5,2515.5 833.2,2515.5 855.9,2515.4 878.6,2515.3 901.3,2515.2 924,2515.2 946.7,2515.1 969.4,2514.9 992.1,2514.8 1014.8,2514.7 1037.5,2514.5 1060.2,2514.3 1082.9,2514.1 1105.6,2513.8 1128.3,2513.6 1151,2513.2 1173.7,2512.8 1196.4,2512.3 1219.1,2511.8 1241.8,2511 1264.5,2510 1287.2,2508.8 1309.9,2507 1332.6,2504.6 1355.3,2501.4 1378,2497.1 1400.7,2491.5 1423.4,2484.7 1446.1,2476.6 1468.8,2467.9 1491.5,2459.8 1514.2,2454.1 1536.9,2452.7 1559.6,2456.2 1582.3,2463.3 1605,2471.8 1627.7,2480.4 1650.4,2487.9 1673.1,2494.2 1695.8,2499.2 1718.5,2503 1741.2,2505.8 1763.9,2507.9 1786.6,2509.4 1809.3,2510.5 1822,2511" fill="none" stroke="#ff00ff" stroke-width="3.6" stroke-linejoin="round" />
<polyline points="174,2515.8 174.9,2515.8 197.6,2515.8 220.3,2515.8 243,2515.7 265.7,2515.7 288.4,2515.7 311.1,2515.6 333.8,2515.6 356.5,2515.6 379.2,2515.5 401.9,2515.5 424.6,2515.4 447.3,2515.4 470,2515.3 492.7,2515.3 515.4,2515.2 538.1,2515.1 560.8,2515 583.5,2515 606.2,2514.9 628.9,2514.8 651.6,2514.7 674.3,2514.6 697,2514.4 719.7,2514.3 742.4,2514.2 765.1,2514 787.8,2513.8 810.5,2513.6 833.2,2513.4 855.9,2513.1 878.6,2512.8 901.3,2512.5 924,2512.2 946.7,2511.7 969.4,2511.2 992.1,2510.7 1014.8,2510 1037.5,2509.3 1060.2,2508.3 1082.9,2507.2 1105.6,2505.8 1128.3,2504.1 1151,2501.6 1173.7,2498.2 1196.4,2493 1219.1,2485.2 1241.8,2473.6 1264.5,2456.9 1287.2,2434.2 1309.9,2405.2 1332.6,2371.2 1355.3,2335.8 1378,2305.7 1400.7,2289.9 1423.4,2294.9 1446.1,2318.4 1468.8,2352 1491.5,2387.4 1514.2,2419.4 1536.9,2445.5 1559.6,2465.4 1582.3,2479.6 1605,2489.2 1627.7,2495.7 1650.4,2499.9 1673.1,2502.9 1695.8,2504.9 1718.5,2506.5 1741.2,2507.8 1763.9,2508.8 1786.6,2509.6 1809.3,2510.3 1822,2510.7" fill="none" stroke="#000080" stroke-width="3.4" stroke-linejoin="round" />
<polyline points="174,2514.9 174.9,2514.9 197.6,2514.8 220.3,2514.7 243,2514.6 265.7,2514.5 288.4,2514.4 311.1,2514.3 333.8,2514.2 356.5,2514.1 379.2,2514 401.9,2513.8 424.6,2513.7 447.3,2513.5 470,2513.4 492.7,2513.2 515.4,2512.9 538.1,2512.7 560.8,2512.5 583.5,2512.2 606.2,2511.9 628.9,2511.5 651.6,2511.1 674.3,2510.7 697,2510.2 719.7,2509.6 742.4,2509 765.1,2508.3 787.8,2507.4 810.5,2506.5 833.2,2505.3 855.9,2504 878.6,2502.4 901.3,2500.5 924,2498.2 946.7,2495.4 969.4,2491.7 992.1,2486.6 1014.8,2479.3 1037.5,2468.2 1060.2,2450.7 1082.9,2423.6 1105.6,2383.2 1128.3,2327 1151,2255.2 1173.7,2173.3 1196.4,2095.3 1219.1,2045 1241.8,2045.4 1264.5,2096.2 1287.2,2174.4 1309.9,2256.3 1332.6,2327.9 1355.3,2383.9 1378,2424 1400.7,2451 1423.4,2468.4 1446.1,2479.5 1468.8,2486.7 1491.5,2491.7 1514.2,2495.4 1536.9,2498.3 1559.6,2500.6 1582.3,2502.5 1605,2504 1627.7,2505.3 1650.4,2506.5 1673.1,2507.4 1695.8,2508.3 1718.5,2509 1741.2,2509.6 1763.9,2510.2 1786.6,2510.7 1809.3,2511.1 1822,2511.3" fill="none" stroke="#008000" stroke-width="3.4" stroke-linejoin="round" />
<polyline points="174,2504.8 174.9,2504.8 197.6,2504.2 220.3,2503.5 243,2502.8 265.7,2502 288.4,2501.1 311.1,2500.2 333.8,2499.2 356.5,2498.1 379.2,2496.9 401.9,2495.5 424.6,2494 447.3,2492.4 470,2490.5 492.7,2488.5 515.4,2486.1 538.1,2483.5 560.8,2480.4 583.5,2476.8 606.2,2472.6 628.9,2467.4 651.6,2461 674.3,2452.8 697,2442.2 719.7,2428.4 742.4,2410.3 765.1,2386.9 787.8,2356.8 810.5,2318.8 833.2,2271.8 855.9,2215.4 878.6,2149.5 901.3,2075 924,1994.3 946.7,1911.1 969.4,1831.2 992.1,1762.4 1014.8,1714 1037.5,1694 1060.2,1706.2 1082.9,1748.3 1105.6,1812.9 1128.3,1890.9 1151,1973.9 1173.7,2055.6 1196.4,2131.9 1219.1,2200 1241.8,2258.8 1264.5,2308.1 1287.2,2348.2 1309.9,2380.1 1332.6,2405.1 1355.3,2424.4 1378,2439.1 1400.7,2450.4 1423.4,2459.1 1446.1,2466 1468.8,2471.4 1491.5,2475.9 1514.2,2479.6 1536.9,2482.8 1559.6,2485.5 1582.3,2487.9 1605,2490 1627.7,2491.9 1650.4,2493.6 1673.1,2495.2 1695.8,2496.5 1718.5,2497.8 1741.2,2498.9 1763.9,2500 1786.6,2500.9 1809.3,2501.8 1822,2502.3" fill="none" stroke="#ff8000" stroke-width="3.0" stroke-linejoin="round" />
<polyline points="174,2509.6 174.9,2509.5 197.6,2509 220.3,2508.5 243,2507.9 265.7,2507.2 288.4,2506.5 311.1,2505.6 333.8,2504.6 356.5,2503.5 379.2,2502.2 401.9,2500.6 424.6,2498.7 447.3,2496.4 470,2493.3 492.7,2489.4 515.4,2484.1 538.1,2476.9 560.8,2467.4 583.5,2454.8 606.2,2438.5 628.9,2417.9 651.6,2392.7 674.3,2363 697,2329.3 719.7,2292.9 742.4,2256 765.1,2222.1 787.8,2195.6 810.5,2180.9 833.2,2181.3 855.9,2196.6 878.6,2223.6 901.3,2257.8 924,2294.7 946.7,2331 969.4,2364.5 992.1,2394.1 1014.8,2419 1037.5,2439.4 1060.2,2455.5 1082.9,2467.9 1105.6,2477.3 1128.3,2484.4 1151,2489.6 1173.7,2493.5 1196.4,2496.5 1219.1,2498.8 1241.8,2500.7 1264.5,2502.3 1287.2,2503.6 1309.9,2504.7 1332.6,2505.6 1355.3,2506.5 1378,2507.3 1400.7,2507.9 1423.4,2508.5 1446.1,2509.1 1468.8,2509.6 1491.5,2510 1514.2,2510.4 1536.9,2510.8 1559.6,2511.1 1582.3,2511.4 1605,2511.7 1627.7,2512 1650.4,2512.2 1673.1,2512.4 1695.8,2512.6 1718.5,2512.8 1741.2,2513 1763.9,2513.2 1786.6,2513.3 1809.3,2513.4 1822,2513.5" fill="none" stroke="#ff00ff" stroke-width="3.6" stroke-linejoin="round" />
<polyline points="174,2507.8 174.9,2507.8 197.6,2506.9 220.3,2506 243,2504.9 265.7,2503.7 288.4,2502.2 311.1,2500.3 333.8,2498 356.5,2494.9 379.2,2490.9 401.9,2485.3 424.6,2477.6 447.3,2467.2 470,2453.2 492.7,2434.9 515.4,2411.9 538.1,2383.9 560.8,2351.7 583.5,2316.7 606.2,2281.7 628.9,2251.1 651.6,2230.6 674.3,2225 697,2236 719.7,2260.6 742.4,2293.2 765.1,2328.6 787.8,2362.9 810.5,2393.8 833.2,2420.1 855.9,2441.6 878.6,2458.3 901.3,2471.1 924,2480.5 946.7,2487.4 969.4,2492.4 992.1,2496.1 1014.8,2498.8 1037.5,2501 1060.2,2502.7 1082.9,2504.1 1105.6,2505.3 1128.3,2506.3 1151,2507.2 1173.7,2508 1196.4,2508.7 1219.1,2509.3 1241.8,2509.8 1264.5,2510.3 1287.2,2510.7 1309.9,2511.1 1332.6,2511.5 1355.3,2511.8 1378,2512.1 1400.7,2512.3 1423.4,2512.6 1446.1,2512.8 1468.8,2513 1491.5,2513.2 1514.2,2513.4 1536.9,2513.5 1559.6,2513.7 1582.3,2513.8 1605,2513.9 1627.7,2514.1 1650.4,2514.2 1673.1,2514.3 1695.8,2514.4 1718.5,2514.5 1741.2,2514.5 1763.9,2514.6 1786.6,2514.7 1809.3,2514.8 1822,2514.8" fill="none" stroke="#800080" stroke-width="3.4" stroke-linejoin="round" />
<polyline points="174,2471.5 174.9,2471 197.6,2457 220.3,2438.6 243,2415.5 265.7,2387.6 288.4,2355.7 311.1,2321.4 333.8,2287.2 356.5,2257.1 379.2,2235.9 401.9,2228.2 424.6,2235.7 447.3,2256.6 470,2286.6 492.7,2320.8 515.4,2355.2 538.1,2387.1 560.8,2415 583.5,2438.2 606.2,2456.7 628.9,2470.8 651.6,2481.3 674.3,2488.8 697,2494.2 719.7,2498.1 742.4,2500.9 765.1,2503 787.8,2504.6 810.5,2505.9 833.2,2506.9 855.9,2507.8 878.6,2508.6 901.3,2509.2 924,2509.8 946.7,2510.3 969.4,2510.8 992.1,2511.2 1014.8,2511.6 1037.5,2511.9 1060.2,2512.2 1082.9,2512.5 1105.6,2512.7 1128.3,2513 1151,2513.2 1173.7,2513.4 1196.4,2513.5 1219.1,2513.7 1241.8,2513.8 1264.5,2514 1287.2,2514.1 1309.9,2514.2 1332.6,2514.3 1355.3,2514.4 1378,2514.5 1400.7,2514.6 1423.4,2514.7 1446.1,2514.8 1468.8,2514.8 1491.5,2514.9 1514.2,2515 1536.9,2515 1559.6,2515.1 1582.3,2515.1 1605,2515.2 1627.7,2515.2 1650.4,2515.3 1673.1,2515.3 1695.8,2515.4 1718.5,2515.4 1741.2,2515.4 1763.9,2515.5 1786.6,2515.5 1809.3,2515.5 1822,2515.6" fill="none" stroke="#00ff00" stroke-width="3.7" stroke-linejoin="round" />
<line x1="174" y1="2520" x2="1325" y2="2520" stroke="#ff80ff" stroke-width="3"/>
<line x1="174" y1="2518" x2="1325" y2="2518" stroke="#000080" stroke-width="3"/>
<line x1="174" y1="2515.3" x2="1325" y2="2515.3" stroke="#008000" stroke-width="3"/>
<line x1="1325" y1="2515.6" x2="1822" y2="2515.6" stroke="#00ff00" stroke-width="3"/>
<polyline points="174,2434.9 174.9,2434.5 186.2,2429 197.6,2421.6 209,2412.2 220.3,2400.9 231.6,2387.7 243,2372.7 254.4,2356.3 265.7,2338.5 277.1,2319.8 288.4,2300.2 299.8,2280.4 311.1,2260.8 322.5,2241.7 333.8,2223.7 345.1,2207.1 356.5,2192.5 367.9,2180.1 379.2,2170.1 390.6,2162.4 401.9,2156.9 413.2,2153.6 424.6,2152.4 436,2153.2 447.3,2155.7 458.6,2159.7 470,2164.9 481.4,2170.8 492.7,2176.2 504.1,2179.6 515.4,2180.3 526.8,2178.4 538.1,2174.1 549.5,2167.3 560.8,2157.4 572.2,2144.1 583.5,2127 594.9,2106.4 606.2,2083.5 617.5,2059.8 628.9,2036.7 640.2,2015.3 651.6,1995.9 663,1978.3 674.3,1962.3 685.7,1947.6 697,1934 708.4,1921.2 719.7,1908.9 731,1897 742.4,1885.6 753.8,1874.7 765.1,1864.4 776.5,1854.6 787.8,1845.4 799.1,1836.8 810.5,1828.4 821.9,1820.1 833.2,1811.4 844.5,1802 855.9,1791.7 867.2,1780.2 878.6,1767.4 890,1753.2 901.3,1737.6 912.6,1720.6 924,1702 935.4,1682 946.7,1660.4 958,1637.2 969.4,1613.5 980.8,1590.6 992.1,1570.3 1003.5,1553.9 1014.8,1542.4 1026.2,1536 1037.5,1535.1 1048.8,1539.8 1060.2,1548.9 1071.5,1561.3 1082.9,1575.6 1094.2,1590.7 1105.6,1605.3 1117,1618.4 1128.3,1629.3 1139.7,1637.3 1151,1641.8 1162.3,1642.6 1173.7,1641.4 1185,1639.7 1196.4,1639.4 1207.8,1642.5 1219.1,1651.7 1230.5,1669.6 1241.8,1698.7 1253.2,1737.6 1264.5,1777.1 1275.8,1826.7 1287.2,1876 1298.5,1918.8 1309.9,1954.6 1321.2,1982.1 1332.6,2007.3 1344,2029.3 1355.3,2045.8 1366.7,2056.5 1378,2063.3 1389.3,2068.5 1400.7,2074.3 1412,2082.2 1423.4,2092.4 1434.8,2104.7 1446.1,2118.5 1457.5,2132.9 1468.8,2147.3 1480.2,2160.9 1491.5,2172.9 1502.8,2183.2 1514.2,2192 1525.5,2199.4 1536.9,2205.6 1548.2,2210.8 1559.6,2215 1570.9,2218.5 1582.3,2221.4 1593.7,2223.9 1605,2226 1616.3,2227.8 1627.7,2229.4 1639,2230.9 1650.4,2232.3 1661.8,2233.6 1673.1,2235.2 1684.4,2237.4 1695.8,2240.6 1707.2,2245 1718.5,2250.4 1729.8,2256.7 1741.2,2263.3 1752.5,2270.2 1763.9,2277.6 1775.2,2285.6 1786.6,2293 1797.9,2298 1809.3,2301.2 1820.7,2304.1 1822,2304.5" fill="none" stroke="#0000ff" stroke-width="3.4" stroke-linejoin="round" />
<polyline points="174,2436.1 174.9,2435.7 186.2,2430.2 197.6,2422.8 209,2413.4 220.3,2402.1 231.6,2388.9 243,2373.9 254.4,2357.5 265.7,2339.7 277.1,2321 288.4,2301.4 299.8,2281.6 311.1,2262 322.5,2242.9 333.8,2224.9 345.1,2208.3 356.5,2193.7 367.9,2181.3 379.2,2171.3 390.6,2163.6 401.9,2158.1 413.2,2154.8 424.6,2153.6 436,2154.4 447.3,2156.7 458.6,2160.2 470,2164.3 481.4,2168.6 492.7,2172.7 504.1,2175.9 515.4,2177.6 526.8,2177.3 538.1,2174.2 549.5,2167.9 560.8,2158.1 572.2,2144.6 583.5,2127.2 594.9,2106.1 606.2,2082.9 617.5,2058.8 628.9,2035.5 640.2,2014 651.6,1994.7 663,1977.3 674.3,1961.7 685.7,1947.4 697,1934.2 708.4,1921.7 719.7,1909.7 731,1898 742.4,1886.7 753.8,1875.9 765.1,1865.5 776.5,1855.7 787.8,1846.6 799.1,1838 810.5,1829.6 821.9,1821.3 833.2,1812.6 844.5,1803.2 855.9,1792.9 867.2,1781.4 878.6,1768.6 890,1754.4 901.3,1738.8 912.6,1721.8 924,1703.2 935.4,1683.2 946.7,1661.6 958,1638.4 969.4,1614.7 980.8,1591.8 992.1,1571.5 1003.5,1555.1 1014.8,1543.6 1026.2,1537.2 1037.5,1536.3 1048.8,1541 1060.2,1550.1 1071.5,1562.5 1082.9,1576.8 1094.2,1591.9 1105.6,1606.5 1117,1619.6 1128.3,1630.5 1139.7,1638.5 1151,1643 1162.3,1643.8 1173.7,1642.6 1185,1640.9 1196.4,1640.6 1207.8,1643.7 1219.1,1652.9 1230.5,1670.8 1241.8,1699.9 1253.2,1738.8 1264.5,1778.3 1275.8,1827.9 1287.2,1877.2 1298.5,1920 1309.9,1955.8 1321.2,1983.3 1332.6,2008.5 1344,2030.5 1355.3,2047 1366.7,2057.7 1378,2064.5 1389.3,2069.7 1400.7,2075.5 1412,2083.4 1423.4,2093.6 1434.8,2105.9 1446.1,2119.7 1457.5,2134.1 1468.8,2148.5 1480.2,2162.1 1491.5,2174.1 1502.8,2184.4 1514.2,2193.2 1525.5,2200.6 1536.9,2206.8 1548.2,2212 1559.6,2216.2 1570.9,2219.7 1582.3,2222.6 1593.7,2225.1 1605,2227.2 1616.3,2229.2 1627.7,2231 1639,2232.8 1650.4,2234.8 1661.8,2237 1673.1,2239.6 1684.4,2242.6 1695.8,2246.3 1707.2,2250.5 1718.5,2255.4 1729.8,2260.8 1741.2,2266.5 1752.5,2272.3 1763.9,2278.3 1775.2,2284.2 1786.6,2289.9 1797.9,2295.3 1809.3,2300.3 1820.7,2304.7 1822,2305.2" fill="none" stroke="#ff0000" stroke-width="3.4" stroke-linejoin="round" />
<polyline points="174,2538.5 178,2538.7 182,2539.2 186,2539.9 190,2540.8 194,2541.5 198,2542 202,2542.4 206,2542.8 210,2543.1 214,2543.3 218,2543.5 222,2543.5 226,2543.4 230,2543.3 234,2543.1 238,2542.8 242,2542.5 246,2542.2 250,2541.9 254,2541.5 258,2541 262,2540.4 266,2539.8 270,2539.2 274,2538.5 278,2537.9 282,2537.3 286,2536.7 290,2536.1 294,2535.5 298,2534.8 302,2534.2 306,2533.7 310,2533.3 314,2533 318,2532.8 322,2532.8 326,2532.9 330,2533.1 334,2533.4 338,2533.7 342,2534 346,2534.5 350,2535.1 354,2535.9 358,2536.8 362,2537.7 366,2538.5 370,2539.4 374,2540.2 378,2540.8 382,2541.4 386,2542.1 390,2542.7 394,2543.3 398,2543.7 402,2544 406,2544 410,2543.9 414,2543.7 418,2543.4 422,2543 426,2542.7 430,2542.2 434,2541.5 438,2540.7 442,2539.8 446,2538.9 450,2537.9 454,2537.1 458,2536.5 462,2535.9 466,2535.2 470,2534.6 474,2534 478,2533.5 482,2533.1 486,2532.9 490,2532.8 494,2532.9 498,2533.2 502,2533.5 506,2534 510,2534.6 514,2535.1 518,2535.7 522,2536.6 526,2537.6 530,2538.7 534,2539.8 538,2540.8 542,2541.7 546,2542.4 550,2543.1 554,2543.7 558,2544 562,2543.9 566,2543.5 570,2542.8 574,2542 578,2541.2 582,2540.4 586,2539.2 590,2537.9 594,2536.5 598,2535.4 602,2534.8 606,2534.7 610,2534.7 614,2534.8 618,2534.9 622,2535 626,2535.2 630,2535.3 634,2535.5 638,2535.9 642,2536.6 646,2537.4 650,2538.2 654,2539 658,2539.7 662,2540.3 666,2540.8 670,2541.4 674,2541.9 678,2542.3 682,2542.6 686,2542.7 690,2542.7 694,2542.5 698,2542.3 702,2542.1 706,2541.8 710,2541.4 714,2540.8 718,2540 722,2539.3 726,2538.6 730,2538 734,2537.5 738,2537 742,2536.5 746,2536.1 750,2535.6 754,2535.3 758,2535 762,2534.8 766,2534.7 770,2534.7 774,2534.8 778,2534.9 782,2535 786,2535.2 790,2535.4 794,2535.5 798,2535.7 802,2536 806,2536.3 810,2536.6 814,2537 818,2537.4 822,2537.7 826,2538.1 830,2538.4 834,2538.8 838,2539.1 842,2539.4 846,2539.8 850,2540.1 854,2540.4 858,2540.7 862,2540.9 866,2541.2 870,2541.4 874,2541.7 878,2541.9 882,2542.2 886,2542.4 890,2542.5 894,2542.6 898,2542.7 902,2542.7 906,2542.5 910,2542.3 914,2542 918,2541.6 922,2541.2 926,2540.8 930,2540.5 934,2540 938,2539.5 942,2538.9 946,2538.3 950,2537.7 954,2537.1 958,2536.6 962,2536 966,2535.6 970,2535.1 974,2534.6 978,2534.1 982,2533.7 986,2533.4 990,2533.3 994,2533.5 998,2533.9 1002,2534.6 1006,2535.4 1010,2536.2 1014,2536.9 1018,2537.5 1022,2537.9 1026,2538.4 1030,2538.8 1034,2539.2 1038,2539.5 1042,2539.9 1046,2540.2 1050,2540.6 1054,2541 1058,2541.3 1062,2541.6 1066,2541.8 1070,2541.9 1074,2541.9 1078,2541.7 1082,2541.5 1086,2541.3 1090,2541 1094,2540.7 1098,2540.3 1102,2540 1106,2539.6 1110,2539 1114,2538.4 1118,2537.8 1122,2537.1 1126,2536.5 1130,2536 1134,2535.6 1138,2535.4 1142,2535.3 1146,2535.2 1150,2535 1154,2534.9 1158,2534.8 1162,2534.8 1166,2534.7 1170,2534.7 1174,2534.8 1178,2535.3 1182,2536.2 1186,2537.2 1190,2538.2 1194,2539.2 1198,2540 1202,2540.7 1206,2541.5 1210,2542.2 1214,2542.6 1218,2542.7 1222,2542.4 1226,2541.9 1230,2541.2 1234,2540.5 1238,2539.7 1242,2538.9 1246,2538.2 1250,2537.2 1254,2536.2 1258,2535.4 1262,2534.8 1266,2534.7 1270,2534.9 1274,2535.4 1278,2536 1282,2536.6 1286,2537.3 1290,2537.9 1294,2538.5 1298,2538.8 1302,2539.2 1306,2539.5 1310,2539.8 1314,2540.1 1318,2540.4 1322,2540.6 1326,2540.7 1330,2540.8 1334,2540.8 1338,2540.6 1342,2540.2 1346,2539.9 1350,2539.5 1354,2539.1 1358,2538.8 1362,2538.7 1366,2538.7 1370,2538.8 1374,2538.9 1378,2539.1 1382,2539.3 1386,2539.4 1390,2539.6 1394,2539.8 1398,2539.9 1402,2540 1406,2540 1410,2540 1414,2540 1418,2540 1422,2540 1426,2540 1430,2540 1434,2540 1438,2540 1442,2540 1446,2540 1450,2540 1454,2540 1458,2540 1462,2539.9 1466,2539.6 1470,2539.2 1474,2538.8 1478,2538.4 1482,2538.2 1486,2538.1 1490,2538.1 1494,2538.1 1498,2538.1 1502,2538.1 1506,2538.1 1510,2538.1 1514,2538.1 1518,2538.1 1522,2538.1 1526,2538.1 1530,2538.1 1534,2538.1 1538,2538.1 1542,2538.1 1546,2538.1 1550,2538.1 1554,2538.1 1558,2538.1 1562,2538.1 1566,2538.1 1570,2538.1 1574,2538.1 1578,2538.1 1582,2538.1 1586,2538.1 1590,2538.1 1594,2538.1 1598,2538.1 1602,2538.1 1606,2538.1 1610,2538.1 1614,2538.2 1618,2538.4 1622,2538.6 1626,2538.8 1630,2539.1 1634,2539.4 1638,2539.8 1642,2540.3 1646,2540.9 1650,2541.5 1654,2542.1 1658,2542.7 1662,2543.2 1666,2543.8 1670,2544.5 1674,2545.1 1678,2545.5 1682,2545.8 1686,2545.9 1690,2545.9 1694,2545.9 1698,2545.9 1702,2545.9 1706,2545.9 1710,2545.9 1714,2545.9 1718,2545.9 1722,2545.9 1726,2545.7 1730,2545 1734,2544.1 1738,2542.9 1742,2541.7 1746,2540.5 1750,2539.5 1754,2538.7 1758,2537.8 1762,2536.9 1766,2536.1 1770,2535.3 1774,2534.6 1778,2534.2 1782,2533.9 1786,2534.1 1790,2535.3 1794,2536.9 1798,2538.5 1802,2539.7 1806,2540 1810,2540 1814,2539.8 1818,2539.4 1822,2538.7" fill="none" stroke="#000000" stroke-width="2.9" stroke-linejoin="round" />
<text class="ttl" style="font-size:67px" transform="scale(0.97,1)" ><tspan x="754.62" y="2728.6">W</tspan><tspan x="826.6" y="2728.6">a</tspan><tspan x="860.1" y="2728.6">v</tspan><tspan x="894.62" y="2728.6">e</tspan><tspan x="927.07" y="2728.6">n</tspan><tspan x="965.48" y="2728.6">u</tspan><tspan x="1002.94" y="2728.6">m</tspan><tspan x="1062.14" y="2728.6">b</tspan><tspan x="1098.64" y="2728.6">e</tspan><tspan x="1129.85" y="2728.6">r</tspan><tspan x="1159.59" y="2728.6"> </tspan><tspan x="1177.78" y="2728.6">(</tspan><tspan x="1200.7" y="2728.6">c</tspan><tspan x="1232.02" y="2728.6">m</tspan><tspan x="1286.98" y="2708.4" style="font-size:46px">-</tspan><tspan x="1302.5" y="2708.4" style="font-size:46px">1</tspan><tspan x="1325.26" y="2728.6">)</tspan></text>
<text class="ttl" style="font-size:68px" transform="translate(120.9,3000) rotate(-90) scale(0.95,1)"><tspan x="645.36">R</tspan><tspan x="697.68">e</tspan><tspan x="728.04">l</tspan><tspan x="748.12">a</tspan><tspan x="783.01">t</tspan><tspan x="805.87">i</tspan><tspan x="826.32">v</tspan><tspan x="861.04">e</tspan><tspan x="891.23"> </tspan><tspan x="909.08">I</tspan><tspan x="938.17">n</tspan><tspan x="976.8">t</tspan><tspan x="999.89">e</tspan><tspan x="1031.86">n</tspan><tspan x="1070.78">s</tspan><tspan x="1097.77">i</tspan><tspan x="1118.06">t</tspan><tspan x="1140.61">i</tspan><tspan x="1160.83">e</tspan><tspan x="1192.57">s</tspan></text>
</svg>
</body></html>
